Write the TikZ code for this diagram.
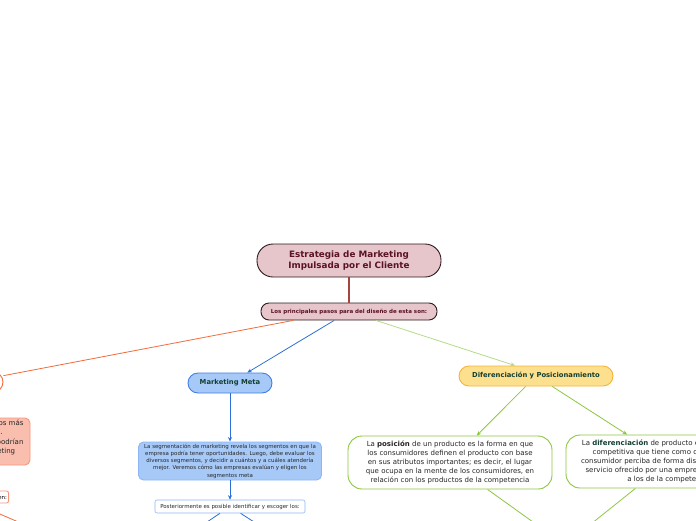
\documentclass[tikz,border=0pt]{standalone}
\usepackage{fontspec}
\setmainfont{DejaVu Sans}
\usetikzlibrary{arrows.meta}

\definecolor{rootfill}{HTML}{E6C5CB}
\definecolor{rootline}{HTML}{2E1A1E}
\definecolor{roottext}{HTML}{5B1323}
\definecolor{rootlink}{HTML}{A84440}
\definecolor{orangelink}{HTML}{F26B3A}
\definecolor{salmonfill}{HTML}{F9BEAD}
\definecolor{salmonline}{HTML}{F7967A}
\definecolor{bluelink}{HTML}{2C6FD8}
\definecolor{bluefill}{HTML}{A6C9F8}
\definecolor{blueline}{HTML}{3F7FE3}
\definecolor{paleblue}{HTML}{8DB6F2}
\definecolor{greenlink}{HTML}{8CC63F}
\definecolor{palegreen}{HTML}{B2DC86}
\definecolor{yellowfill}{HTML}{FDE08E}
\definecolor{yellowline}{HTML}{F6B33A}
\definecolor{darkteal}{HTML}{143F33}

\tikzset{
  topic/.style={draw, rounded corners=#1, align=center, inner sep=0pt, line width=0.9pt},
  tip/.style={-{Stealth[length=4.5pt,width=4pt]}},
  small/.style={font=\fontsize{5.45}{7.3}\selectfont},
  body/.style={font=\fontsize{7}{9.2}\selectfont, text=black!85},
}

\begin{document}
\begin{tikzpicture}[x=1pt,y=-1pt]
  \useasboundingbox (0,0) rectangle (696,520);
  \clip (0,0) rectangle (696,520);

  % central topic and steps
  \node[topic=16pt, fill=rootfill, draw=rootline, text=roottext,
        minimum width=184pt, minimum height=33pt,
        font=\fontsize{8.8}{11}\selectfont\bfseries] (root) at (349,260.5)
        {Estrategia de Marketing\\Impulsada por el Cliente};
  \node[topic=8pt, fill=rootfill, draw=rootline, text=roottext,
        minimum width=176pt, minimum height=17pt,
        font=\fontsize{5.5}{6.5}\selectfont\bfseries] (steps) at (349,311.5)
        {Los principales pasos para del diseño de esta son:};

  % left branch (mostly outside the frame)
  \node[topic=10pt, draw=orangelink, fill=white, minimum width=66pt, minimum height=20pt] (segm) at (-30,382) {};
  \node[topic=5pt, fill=salmonfill, draw=salmonline, minimum width=200pt, minimum height=47pt] (salmon) at (-70,441.5) {};
  \node[body, align=right, anchor=east] (salmontxt) at (27,437.5)
        {los segmentos más\\claros.\phantom{xxxxx}\\que podrían\\de marketing\phantom{xx}};
  \node[topic=2pt, draw=salmonline, fill=white, minimum height=12pt, small, text width=96pt, align=right, anchor=east] (listL) at (9,497)
        {Se divide en:\phantom{i}};
  \coordinate (lowL) at (60,540);

  % Marketing Meta branch
  \node[topic=10pt, fill=bluefill, draw=blueline, text=darkteal, minimum width=84pt, minimum height=20pt,
        font=\fontsize{6.8}{8}\selectfont\bfseries] (meta) at (230,383) {Marketing Meta};
  \node[topic=5pt, fill=bluefill, draw=paleblue, small, text=black!85, minimum width=183pt, minimum height=38pt] (segtext) at (230,461)
        {La segmentación de marketing revela los segmentos en que la\\
         empresa podría tener oportunidades. Luego, debe evaluar los\\
         diversos segmentos, y decidir a cuántos y a cuáles atendería\\
         mejor. Veremos cómo las empresas evalúan y eligen los\\
         segmentos meta};
  \node[topic=2pt, fill=white, draw=paleblue, small, text=black!85, line width=0.6pt, minimum width=150pt, minimum height=13pt] (post) at (230,506.5)
        {Posteriormente es posible identificar y escoger los:};
  \coordinate (postA) at (190,533.5);
  \coordinate (postB) at (272,533.5);

  % Diferenciacion branch
  \node[topic=10pt, fill=yellowfill, draw=yellowline, text=darkteal, minimum width=154pt, minimum height=20pt,
        font=\fontsize{6.8}{8}\selectfont\bfseries] (difpos) at (536,376) {Diferenciación y Posicionamiento};
  \node[topic=14pt, fill=white, draw=greenlink, body, minimum width=204pt, minimum height=53pt] (posicion) at (450,462.5)
        {La \textbf{posición} de un producto es la forma en que\\
         los consumidores definen el producto con base\\
         en sus atributos importantes; es decir, el lugar\\
         que ocupa en la mente de los consumidores, en\\
         relación con los productos de la competencia};
  \node[topic=14pt, fill=white, draw=greenlink, body, minimum width=206pt, minimum height=53pt] (diferen) at (669,461.5)
        {La \textcolor{darkteal}{\textbf{diferenciación}} de producto es una estrategia\\
         competitiva que tiene como objetivo que el\\
         consumidor perciba de forma distinta un producto\\
         servicio ofrecido por una empresa con respecto\\
         a los de la competencia};
  \coordinate (posLow) at (586,560);
  \coordinate (difLow) at (546,560);

  % connectors
  \draw[rootlink, line width=1.8pt] (root) -- (steps);
  \draw[orangelink, line width=0.8pt] ([xshift=-56pt]steps.south) -- (segm);
  \draw[orangelink, line width=0.8pt] (listL) -- (lowL);
  \draw[bluelink, line width=0.8pt, tip] (steps) -- (meta);
  \draw[palegreen, line width=0.8pt, tip] ([xshift=27pt]steps.south) -- ([xshift=-21pt]difpos.north);
  \draw[bluelink, line width=0.8pt, tip] (meta) -- (segtext);
  \draw[bluelink, line width=0.8pt, tip] (segtext) -- (post);
  \draw[bluelink, line width=0.8pt] (post) -- (postA);
  \draw[bluelink, line width=0.8pt] (post) -- (postB);
  \draw[greenlink, line width=0.8pt, tip] (difpos) -- (posicion);
  \draw[greenlink, line width=0.8pt, tip] (difpos) -- (diferen);
  \draw[greenlink, line width=0.8pt] (posicion) -- (posLow);
  \draw[greenlink, line width=0.8pt] (diferen) -- (difLow);
\end{tikzpicture}
\end{document}
